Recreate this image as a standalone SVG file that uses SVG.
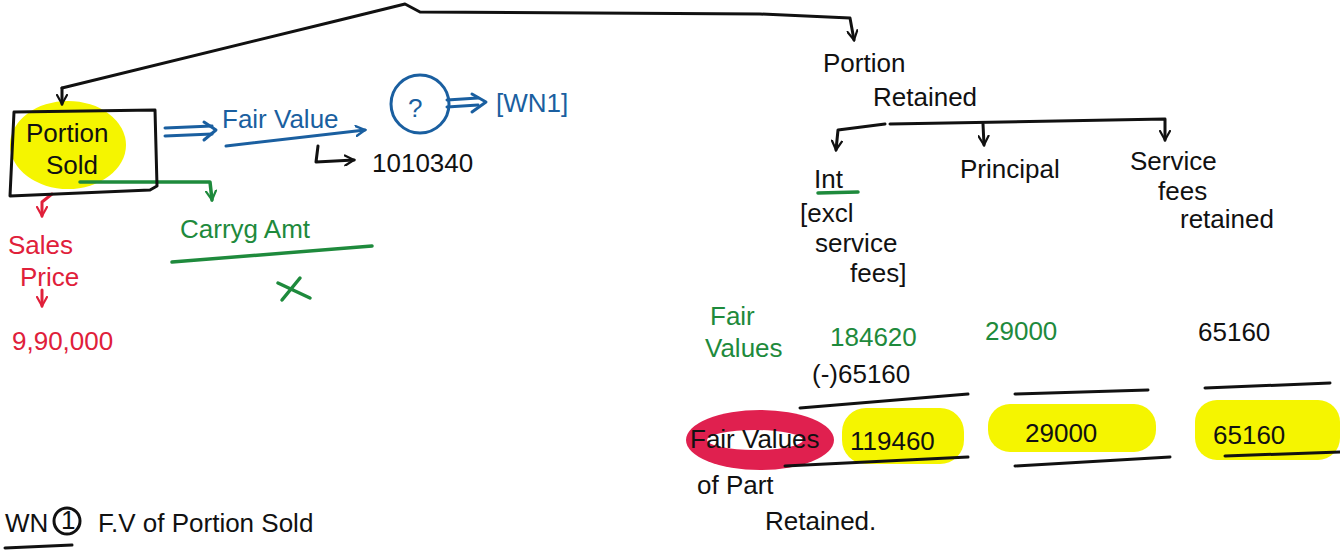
<svg xmlns="http://www.w3.org/2000/svg" width="1340" height="550" viewBox="0 0 1340 550">
<defs>
<marker id="ak" viewBox="0 0 12 12" refX="10" refY="6" markerWidth="12" markerHeight="12" markerUnits="userSpaceOnUse" orient="auto"><path d="M1,1 L10,6 L1,11" fill="none" stroke="#111" stroke-width="2.2" stroke-linecap="round"/></marker>
<marker id="ag" viewBox="0 0 12 12" refX="10" refY="6" markerWidth="12" markerHeight="12" markerUnits="userSpaceOnUse" orient="auto"><path d="M1,1 L10,6 L1,11" fill="none" stroke="#1e8a3c" stroke-width="2.2" stroke-linecap="round"/></marker>
<marker id="ar" viewBox="0 0 12 12" refX="10" refY="6" markerWidth="12" markerHeight="12" markerUnits="userSpaceOnUse" orient="auto"><path d="M1,1 L10,6 L1,11" fill="none" stroke="#e0203a" stroke-width="2.2" stroke-linecap="round"/></marker>
<marker id="ab" viewBox="0 0 12 12" refX="10" refY="6" markerWidth="12" markerHeight="12" markerUnits="userSpaceOnUse" orient="auto"><path d="M1,1 L10,6 L1,11" fill="none" stroke="#1a5fa0" stroke-width="2.4" stroke-linecap="round"/></marker>
</defs>
<style>
text{font-family:"Liberation Sans","DejaVu Sans",sans-serif;font-size:26px;fill:#111}
.g{fill:#1e8a3c}.r{fill:#e0203a}.b{fill:#1a5fa0}
.sk{fill:none;stroke:#111;stroke-width:3;stroke-linecap:round;stroke-linejoin:round}
.sg{fill:none;stroke:#1e8a3c;stroke-width:3.5;stroke-linecap:round;stroke-linejoin:round}
.sr{fill:none;stroke:#e0203a;stroke-width:3;stroke-linecap:round;stroke-linejoin:round}
.sb{fill:none;stroke:#1a5fa0;stroke-width:3;stroke-linecap:round;stroke-linejoin:round}
.hl{fill:#f5f500}
</style>
<rect width="1340" height="550" fill="#fff"/>
<g id="highlights">
<ellipse cx="68" cy="145" rx="58" ry="44" class="hl"/>
<rect x="842" y="408" width="122" height="56" rx="24" class="hl"/>
<rect x="988" y="404" width="168" height="48" rx="22" class="hl"/>
<rect x="1195" y="400" width="145" height="60" rx="22" class="hl"/>
<ellipse cx="760" cy="440" rx="74" ry="30" fill="#e0204f"/>
<ellipse cx="755" cy="440" rx="48" ry="10" fill="#fff"/>
</g>
<g id="connectors">
<path class="sk" d="M62,88 L340,20 L405,4 L420,12 L760,14 L850,18 L854,40" marker-end="url(#ak)"/>
<path class="sk" d="M62,88 L62,104" marker-end="url(#ak)"/>
<path class="sk" d="M885,124 L838,130 L836,150" marker-end="url(#ak)"/>
<path class="sk" d="M890,124 L1165,119 L1165,140" marker-end="url(#ak)"/>
<path class="sk" d="M983,124 L984,145" marker-end="url(#ak)"/>
<path class="sb" d="M165,128 L212,126 M165,136 L212,134" />
<path class="sb" d="M204,122 L216,130 L204,140"/>
<path class="sb" d="M226,146 L365,130" marker-end="url(#ab)"/>
<path class="sb" d="M447,100 L478,98 M447,107 L478,105"/>
<path class="sb" d="M472,94 L486,102 L472,112"/>
<path class="sk" d="M318,146 L316,162 L354,160" marker-end="url(#ak)"/>
<path class="sg" d="M80,182 L210,182 L212,200" marker-end="url(#ag)"/>
<path class="sr" d="M52,194 L42,202 L42,216" marker-end="url(#ar)"/>
<path class="sr" d="M42,290 L42,306" marker-end="url(#ar)"/>
</g>
<g id="portion-sold">
<path class="sk" d="M14,112 L155,110 L157,186 L150,190 L10,196 L14,112"/>
<text x="26" y="142" font-size="27">Portion</text>
<text x="46" y="174" font-size="27">Sold</text>
</g>
<g id="fair-value">
<text x="222" y="128" class="b" font-size="32">Fair Value</text>
<circle cx="420" cy="104" r="29" class="sb"/>
<text x="408" y="117" class="b" font-size="36">?</text>
<text x="496" y="112" class="b" font-size="30">[WN1]</text>
<text x="372" y="172" font-size="32">1010340</text>
</g>
<g id="carry-amt">
<text x="180" y="238" class="g" font-size="28">Carryg Amt</text>
<path class="sg" d="M172,262 L372,246"/>
<path class="sg" d="M278,283 L310,298 M300,278 L282,300"/>
</g>
<g id="sales-price">
<text x="8" y="254" class="r" font-size="26">Sales</text>
<text x="20" y="286" class="r" font-size="26">Price</text>
<text x="12" y="350" class="r" font-size="23">9,90,000</text>
</g>
<g id="portion-retained">
<text x="823" y="72" font-size="27">Portion</text>
<text x="873" y="106" font-size="30">Retained</text>
</g>
<g id="int">
<text x="814" y="188" font-size="27">Int</text>
<path class="sg" d="M818,193 L858,192"/>
<text x="800" y="222" font-size="27">[excl</text>
<text x="815" y="252" font-size="27">service</text>
<text x="850" y="282" font-size="27">fees]</text>
</g>
<g id="principal">
<text x="960" y="178" font-size="27">Principal</text>
</g>
<g id="service-fees">
<text x="1130" y="170" font-size="28">Service</text>
<text x="1158" y="200" font-size="28">fees</text>
<text x="1180" y="228" font-size="28">retained</text>
</g>
<g id="fair-values-row">
<text x="710" y="325" class="g" font-size="23">Fair</text>
<text x="705" y="357" class="g" font-size="23">Values</text>
<text x="830" y="346" class="g" font-size="27">184620</text>
<text x="985" y="340" class="g" font-size="27">29000</text>
<text x="1198" y="341" font-size="27">65160</text>
<text x="812" y="383" font-size="27">(-)65160</text>
<path class="sk" d="M800,408 L968,394"/>
<path class="sk" d="M1015,394 L1148,390"/>
<path class="sk" d="M1205,388 L1330,383"/>
</g>
<g id="fair-values-part">
<text x="690" y="448" font-size="25">Fair Values</text>
<text x="850" y="450" font-size="30">119460</text>
<text x="1025" y="442" font-size="30">29000</text>
<text x="1213" y="444" font-size="30">65160</text>
<path class="sk" d="M785,466 L968,457"/>
<path class="sk" d="M1015,466 L1170,457"/>
<path class="sk" d="M1225,456 L1340,452"/>
<text x="697" y="494" font-size="28">of Part</text>
<text x="765" y="530" font-size="30">Retained.</text>
</g>
<g id="wn1">
<text x="5" y="532" font-size="28">WN</text>
<circle cx="67" cy="521" r="13" class="sk" stroke-width="2.5"/>
<text x="61" y="529" font-size="20">1</text>
<text x="98" y="532" font-size="28">F.V of Portion Sold</text>
<path class="sk" d="M5,548 L72,545"/>
</g>
</svg>
